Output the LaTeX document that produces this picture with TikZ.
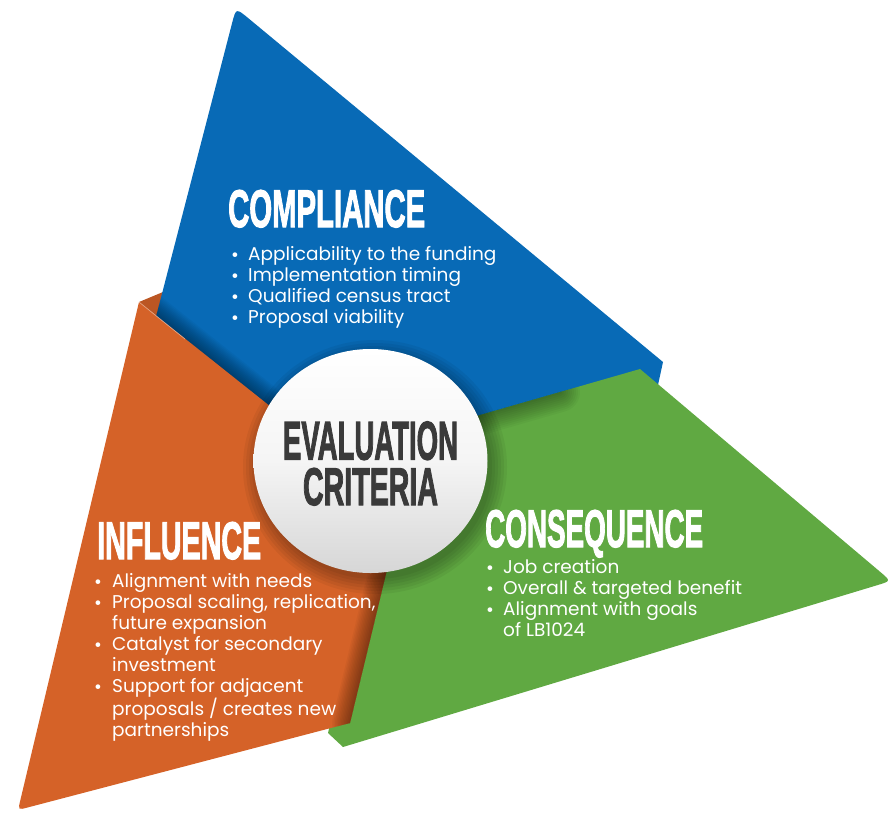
\documentclass[tikz,border=0pt]{standalone}
\usepackage{fontspec}
\usepackage{graphicx}
\usetikzlibrary{calc}
\setmainfont{Poppins}
\newfontface\headfont{Liberation Sans Bold}[FakeBold=2.5]
\definecolor{cblue}{RGB}{8,106,182}
\definecolor{corange}{RGB}{213,98,40}
\definecolor{cgreen}{RGB}{96,169,66}
\definecolor{cgray}{RGB}{58,58,58}
\newcommand\blt{\raisebox{-1.6pt}{\fontsize{19}{19}\selectfont\textbullet}}
\newcommand\hd[3]{\resizebox{#1pt}{#2pt}{\headfont #3}}
\begin{document}
\begin{tikzpicture}[x=1pt,y=-1pt,
  head/.style={inner sep=0pt, text=white, anchor=base west},
  midtext/.style={inner sep=0pt, text=cgray, align=center},
  listbox/.style={inner sep=0pt, text=white, anchor=north west, font=\fontsize{18.5}{21}\selectfont},
  shadestroke/.style={black, opacity=0.035, line cap=round}]
\useasboundingbox (0,0) rectangle (892,812);

% orange flap behind blue
\fill[corange!88!black] (139,302) -- (163,292) -- (172,335) -- cycle;

% blue triangle
\fill[cblue] (150,340) -- ($(236,8)!16pt!(150,340)$) .. controls (236,8) .. ($(236,8)!16pt!(663,362)$)
   -- (663,362) -- (658,385) -- (420,440) -- (260,440) -- cycle;
% shadow on blue along orange edge
\begin{scope}
  \clip (150,340) -- (236,8) -- (663,362) -- (658,385) -- (420,440) -- (260,440) -- cycle;
  \foreach \w in {3,6,...,36} {\draw[shadestroke, line width=\w pt] (139,302) -- (300,430);}
\end{scope}

% green triangle
\fill[cgreen] (640,369) -- ($(891,581)!14pt!(640,369)$) .. controls (891,581) .. ($(891,581)!14pt!(343,747)$)
   -- (343,747) -- (328,733) -- (400,438) -- cycle;
\begin{scope}
  \clip (640,369) -- (891,581) -- (343,747) -- (328,733) -- (400,438) -- cycle;
  \foreach \w in {4,8,...,40} {\draw[shadestroke, line width=\w pt] (560,392) -- (400,438);}
\end{scope}

% orange triangle
\fill[corange] (139,302) -- ($(18,810)!10pt!(139,302)$) .. controls (18,810) .. ($(18,810)!10pt!(350,723)$)
   -- (350,723) -- (399,520) -- (300,430) -- cycle;
\begin{scope}
  \clip (139,302) -- (18,810) -- (350,723) -- (399,520) -- (300,430) -- cycle;
  \foreach \w in {3,6,...,36} {\draw[shadestroke, line width=\w pt] (350,723) -- (399,520);}
\end{scope}
\draw[white, opacity=0.45, line width=0.7pt] (139,302) -- (185,339);

% circle shadow
\foreach \k in {0,3,...,15} {
  \fill[black, opacity=0.05] (375,467) ellipse [x radius={117pt+\k pt}, y radius={112pt+\k pt}];
}
% circle
\shade[top color=white, bottom color=black!16, middle color=white!96!black]
  (370.5,461) ellipse [x radius=117pt, y radius=112pt];

% circle text
\node[midtext] (evaltext) at (370.5,463.5) {\hd{175}{38}{EVALUATION}\\[7pt]\hd{135}{37}{CRITERIA}};

% headings
\node[head] (hcomp) at (228,227) {\hd{197}{37}{COMPLIANCE}};
\node[head] (hinfl) at (97,559) {\hd{164}{37}{INFLUENCE}};
\node[head] (hcons) at (485,547) {\hd{218}{37}{CONSEQUENCE}};

% lists
\node[listbox] (lcomp) at (231,245.3) {\begin{tabular}{@{}p{17pt}@{}l@{}}
\blt & Applicability to the funding\\
\blt & Implementation timing\\
\blt & Qualified census tract\\
\blt & Proposal viability
\end{tabular}};

\node[listbox] (linfl) at (94,572.3) {\begin{tabular}{@{}p{18pt}@{}l@{}}
\blt & Alignment with needs\\
\blt & Proposal scaling, replication,\\
 & future expansion\\
\blt & Catalyst for secondary\\
 & investment\\
\blt & Support for adjacent\\
 & proposals / creates new\\
 & partnerships
\end{tabular}};

\node[listbox] (lcons) at (486,558.3) {\begin{tabular}{@{}p{17pt}@{}l@{}}
\blt & Job creation\\
\blt & Overall \& targeted benefit\\
\blt & Alignment with goals\\
 & of LB1024
\end{tabular}};
\end{tikzpicture}
\end{document}
